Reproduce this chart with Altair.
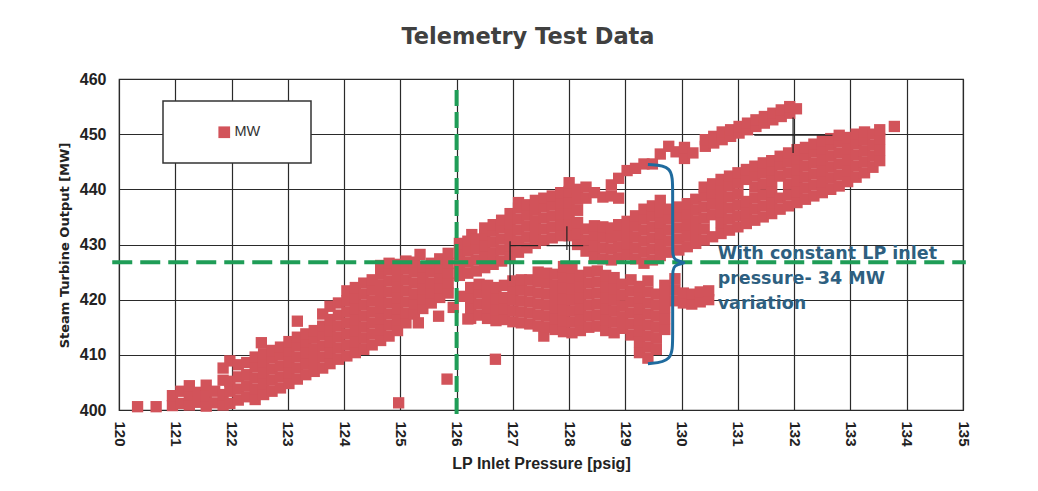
import altair as alt
import pandas as pd

# ---------------- text ----------------
TITLE = "Telemetry Test Data"
X_TITLE = "LP Inlet Pressure [psig]"
Y_TITLE = "Steam Turbine Output [MW]"
SERIES = "MW"
ANNOTATION = ["With constant LP inlet", "pressure- 34 MW", "variation"]

# ---------------- ticks ----------------
X_TICKS = list(range(120, 136))
Y_TICKS = [400, 410, 420, 430, 440, 450, 460]

# ---------------- annotation positions (data units) ----------------
ANNOT_X = [130.64]
ANNOT_Y = [430.0]
H_REF_X = [119.88]
H_REF_X2 = [135.05]
H_REF_Y = [426.8]
V_REF_X = [126.0]
V_REF_Y = [458.0]
V_REF_Y2 = [398.6]
BRACE_X = [129.40, 129.84, 129.84, 129.84, 129.84, 130.14, 129.84, 129.84, 129.84, 129.84, 129.40]
BRACE_Y = [444.5, 444.3, 440.0, 429.0, 427.0, 426.7, 426.4, 424.4, 413.0, 408.8, 408.4]
CROSS_X = [126.95, 126.95, 127.60, 127.96, 131.29, 131.98]
CROSS_X2 = [126.95, 127.45, 128.25, 127.96, 132.68, 131.98]
CROSS_Y = [423.4, 429.8, 429.8, 429.0, 449.8, 446.6]
CROSS_Y2 = [430.6, 429.8, 429.8, 433.3, 449.8, 453.0]

# ---------------- scatter data: (LP inlet pressure, [MW values]) ----------------
LOWER_LEFT_BAND = [
    (120.33, [400.6]),
    (120.66, [400.6]),
    (120.95, [400.8, 402.6]),
    (121.10, [401.2, 403.4]),
    (121.25, [400.9, 402.8, 404.4]),
    (121.40, [401.4, 403.2]),
    (121.55, [400.7, 402.6, 404.5]),
    (121.70, [401.3, 403.4]),
    (121.85, [400.9, 402.8, 405.4, 407.6]),
    (121.97, [401.2, 403.4, 405.2, 408.9]),
    (122.12, [401.8, 403.8, 406.0, 408.2]),
    (122.27, [402.4, 404.4, 406.4, 408.6]),
    (122.42, [401.9, 403.8, 405.8, 407.8, 409.6]),
    (122.53, [412.2]),
    (122.57, [402.8, 404.8, 406.8, 408.8, 410.2]),
    (122.72, [403.4, 405.4, 407.4, 409.4, 410.8]),
    (122.87, [404.0, 406.0, 408.0, 410.0, 411.4]),
    (123.02, [404.8, 406.8, 408.8, 410.8, 412.4]),
    (123.17, [405.6, 407.6, 409.6, 411.6, 413.2, 416.1]),
    (123.32, [406.4, 408.4, 410.4, 412.4, 413.8]),
    (123.47, [407.0, 409.0, 411.0, 413.0, 414.4]),
    (123.62, [407.6, 409.6, 411.6, 413.6, 415.2, 417.4]),
    (123.75, [408.4, 410.4, 412.4, 414.4, 416.4, 418.8]),
    (123.90, [409.2, 411.2, 413.2, 415.2, 417.2, 419.4]),
    (124.05, [409.8, 411.8, 413.8, 415.8, 417.8, 419.8, 421.6]),
    (124.20, [410.4, 412.4, 414.4, 416.4, 418.4, 420.4, 422.2]),
    (124.35, [411.0, 413.0, 415.0, 417.0, 419.0, 421.0, 423.0]),
    (124.50, [411.8, 413.8, 415.8, 417.8, 419.8, 421.8, 423.6]),
    (124.65, [412.6, 414.6, 416.6, 418.6, 420.6, 422.6, 424.6, 426.2]),
    (124.80, [413.4, 415.4, 417.4, 419.4, 421.4, 423.4, 425.4, 426.6]),
    (124.95, [414.4, 416.4, 418.4, 420.4, 422.4, 424.4, 426.4]),
    (125.10, [415.8, 417.6, 419.6, 421.6, 423.6, 425.6, 427.0]),
    (125.25, [417.4, 419.2, 421.0, 423.0, 425.0, 426.8]),
    (125.40, [418.4, 420.2, 422.0, 424.0, 426.0]),
    (125.55, [419.4, 421.2, 423.0, 425.0, 426.6]),
    (125.70, [420.4, 422.2, 424.0, 425.8, 427.4]),
    (125.85, [421.2, 423.0, 424.8, 426.6, 428.4]),
]

OUTLIERS = [
    (124.97, [401.3]),
    (125.83, [405.6]),
    (125.32, [415.8]),
    (125.68, [417.0]),
    (125.35, [428.2]),
    (125.94, [418.6]),
    (126.08, [420.6]),
    (126.20, [416.5]),
    (126.27, [431.8]),
    (126.69, [409.2]),
    (127.55, [413.4]),
    (133.78, [451.4]),
]

UPPER_BAND = [
    (126.05, [424.4, 426.4, 428.4, 430.2]),
    (126.20, [424.8, 426.8, 428.8, 430.6]),
    (126.35, [425.2, 427.2, 429.2, 431.0]),
    (126.50, [425.8, 427.8, 429.8, 431.8, 433.0]),
    (126.65, [426.4, 428.4, 430.4, 432.4, 433.6]),
    (126.80, [427.0, 429.0, 431.0, 433.0, 434.4]),
    (126.95, [427.8, 429.8, 431.8, 433.8, 435.6]),
    (127.10, [428.6, 430.6, 432.6, 434.6, 436.6, 437.6]),
    (127.25, [429.4, 431.4, 433.4, 435.4, 437.2]),
    (127.40, [430.2, 432.2, 434.2, 436.2, 438.0]),
    (127.55, [430.8, 432.8, 434.8, 436.8, 438.4]),
    (127.70, [431.2, 433.2, 435.2, 437.2, 438.8]),
    (127.85, [431.6, 433.6, 435.6, 437.6, 439.4]),
    (128.00, [431.6, 433.6, 435.6, 437.6, 439.6, 441.2]),
    (128.15, [430.0, 432.0, 434.0, 436.2, 438.2, 440.0]),
    (128.30, [428.8, 430.8, 432.8, 438.4, 440.4]),
    (128.45, [427.8, 429.8, 431.8, 433.4, 439.4]),
    (128.60, [427.4, 429.4, 431.4, 433.2, 438.6]),
    (128.75, [427.2, 429.2, 431.2, 433.0, 438.8, 440.8]),
    (128.88, [427.6, 429.6, 431.6, 433.6, 438.4, 442.0]),
    (129.03, [428.2, 430.2, 432.2, 434.2, 443.4]),
    (129.18, [427.4, 429.4, 431.4, 433.4, 435.2, 443.8]),
    (129.33, [426.6, 428.6, 430.6, 432.6, 434.6, 436.4, 444.6]),
    (129.48, [427.2, 429.2, 431.2, 433.2, 435.2, 437.0, 444.6]),
    (129.62, [428.0, 430.0, 432.0, 434.0, 436.0, 438.0, 446.4]),
    (129.77, [428.6, 430.6, 432.6, 434.6, 436.4, 447.8]),
    (129.90, [446.8]),
    (130.05, [445.6, 447.6]),
    (130.20, [446.6]),
]

LOWER_BAND = [
    (126.25, [416.6, 418.6, 420.4, 422.2]),
    (126.40, [417.2, 419.2, 421.2, 422.8]),
    (126.55, [416.6, 418.6, 420.6, 422.6]),
    (126.70, [416.2, 418.2, 420.2, 422.2]),
    (126.85, [416.4, 418.4, 420.4, 422.6]),
    (127.00, [416.0, 418.0, 420.0, 422.0, 423.4]),
    (127.15, [415.8, 417.8, 419.8, 421.8, 423.6]),
    (127.30, [415.6, 417.6, 419.6, 421.6, 423.6]),
    (127.45, [415.2, 417.2, 419.2, 421.2, 423.2, 425.0]),
    (127.60, [415.0, 417.0, 419.0, 421.0, 423.0, 424.8]),
    (127.75, [414.6, 416.6, 418.6, 420.6, 422.6, 424.6]),
    (127.90, [414.2, 416.2, 418.2, 420.2, 422.2, 424.2, 426.0]),
    (128.05, [414.0, 416.0, 418.0, 420.0, 422.0, 424.0, 425.8]),
    (128.20, [414.4, 416.4, 418.4, 420.4, 422.4, 424.4]),
    (128.35, [415.0, 417.0, 419.0, 421.0, 423.0, 425.0]),
    (128.50, [415.2, 417.2, 419.2, 421.2, 423.2, 425.2]),
    (128.65, [414.4, 416.4, 418.4, 420.4, 422.4, 424.4]),
    (128.80, [414.0, 416.0, 418.0, 420.0, 422.0, 424.0]),
    (128.95, [414.8, 416.8, 418.8, 420.8, 422.8]),
    (129.10, [413.6, 415.6, 417.6, 419.6, 421.6, 423.6]),
    (129.25, [410.4, 412.4, 414.4, 416.4, 418.4, 420.4, 422.4]),
    (129.40, [409.4, 411.4, 413.4, 415.4, 417.4, 419.4, 421.4, 423.4]),
    (129.55, [411.0, 413.0, 415.0, 417.0, 419.0, 421.0]),
    (129.70, [414.6, 416.6, 418.6, 420.6, 422.6]),
    (129.88, [419.8, 421.8, 423.8]),
    (130.03, [419.4, 421.2]),
    (130.18, [419.2, 421.0]),
    (130.33, [419.6, 421.4]),
    (130.48, [420.0, 421.6]),
]

RIGHT_BAND = [
    (129.95, [429.0, 431.0, 433.0, 435.0, 436.8]),
    (130.10, [429.6, 431.6, 433.6, 435.6, 437.4]),
    (130.25, [430.2, 432.2, 434.2, 436.2, 438.2]),
    (130.40, [430.8, 432.8, 434.8, 436.8, 438.8, 440.4]),
    (130.55, [431.4, 435.4, 437.4, 439.4, 441.0]),
    (130.70, [432.0, 434.0, 436.0, 438.0, 440.0, 441.8]),
    (130.85, [432.6, 434.6, 436.6, 438.6, 440.6, 442.4]),
    (131.00, [433.2, 435.2, 437.2, 439.2, 441.2, 443.0]),
    (131.15, [433.8, 435.8, 437.8, 441.8, 443.6]),
    (131.30, [434.4, 436.4, 438.4, 440.4, 442.4, 444.2]),
    (131.45, [435.0, 437.0, 439.0, 441.0, 443.0, 444.8]),
    (131.60, [435.6, 437.6, 439.6, 441.6, 443.6, 445.2]),
    (131.75, [436.4, 438.4, 442.4, 444.4, 446.0]),
    (131.90, [437.0, 439.0, 441.0, 443.0, 445.0, 446.6]),
    (132.05, [437.6, 439.6, 441.6, 443.6, 445.6, 447.2]),
    (132.20, [438.2, 440.2, 442.2, 444.2, 446.2, 447.6]),
    (132.35, [438.8, 440.8, 442.8, 444.8, 446.8, 448.2]),
    (132.50, [439.4, 441.4, 443.4, 445.4, 447.4, 448.8]),
    (132.65, [440.0, 442.0, 444.0, 446.0, 448.0, 449.2]),
    (132.80, [440.6, 442.6, 444.6, 446.6, 448.6, 449.8]),
    (132.95, [441.4, 443.4, 445.4, 447.4, 449.4]),
    (133.10, [442.2, 444.2, 446.2, 448.2, 450.0]),
    (133.25, [443.0, 445.0, 447.0, 449.0, 450.4]),
    (133.40, [444.0, 446.0, 448.0, 450.0]),
    (133.52, [445.2, 447.2, 449.2, 450.8]),
]

TOP_STREAK = [
    (130.42, [447.8, 449.0]),
    (130.57, [448.4, 449.6]),
    (130.72, [449.0, 450.4]),
    (130.87, [449.6, 450.8]),
    (131.02, [450.2, 451.4]),
    (131.17, [450.8, 452.0]),
    (131.32, [451.4, 452.6]),
    (131.47, [452.0, 453.2]),
    (131.62, [452.6, 453.8]),
    (131.77, [453.2, 454.4]),
    (131.92, [453.8, 455.0]),
    (132.04, [454.6]),
]

RED = "#d2535a"
GREEN = "#1f9d57"
BLUE = "#1f6b9e"
TEXT_BLUE = "#2e5f80"
GRID = "#2a2a2a"


def flatten(columns):
    return [(x, y) for x, ys in columns for y in ys]


rows = []
for group in (LOWER_LEFT_BAND, OUTLIERS, UPPER_BAND, LOWER_BAND, RIGHT_BAND, TOP_STREAK):
    rows += flatten(group)
points_df = pd.DataFrame(rows, columns=["p", "mw"])
points_df["series"] = SERIES

xs = alt.Scale(domain=[120, 135], nice=False, zero=False)
ys = alt.Scale(domain=[400, 460], nice=False, zero=False)

x_axis = alt.Axis(
    values=X_TICKS, format="d", title=X_TITLE, labelAngle=90, labelPadding=11,
    labelFont="Liberation Sans", labelFontSize=15, labelFontWeight="bold", labelColor="#222",
    titleFont="Liberation Sans Narrow, Liberation Sans", titleFontSize=16, titleFontWeight="bold",
    titleColor="#222", titleY=53, titleBaseline="middle",
)
y_axis = alt.Axis(
    values=Y_TICKS, format="d", title=Y_TITLE, labelPadding=13,
    labelFont="Liberation Sans", labelFontSize=16, labelFontWeight="bold", labelColor="#222",
    titleFont="DejaVu Sans", titleFontSize=13, titleFontWeight="bold", titleColor="#222",
    titleX=-55, titleY=166, titleBaseline="middle", titleAlign="center",
)

BLANK = "\u2800"  # blank braille cell: an invisible, non-trimmed spacer for the legend frame
NBSP = "\u00a0"
legend = alt.Legend(
    orient="none", legendX=44, legendY=22, padding=24,
    title=BLANK * 2, titleOrient="left", titleFont="DejaVu Sans", titleFontSize=12, titlePadding=11,
    fillColor="white", strokeColor="#333",
    symbolType="square", symbolSize=137, symbolStrokeWidth=0, symbolOpacity=1,
    labelFont="Liberation Sans", labelFontSize=14.5, labelColor="#333", labelOffset=3,
    labelExpr="datum.label + '" + NBSP + BLANK * 2 + "'",
)

points = alt.Chart(points_df).mark_square(size=128, opacity=1).encode(
    x=alt.X("p:Q", scale=xs, axis=x_axis),
    y=alt.Y("mw:Q", scale=ys, axis=y_axis),
    color=alt.Color("series:N", scale=alt.Scale(range=[RED]), legend=legend),
)

cross_df = pd.DataFrame({"p": CROSS_X, "p2": CROSS_X2, "mw": CROSS_Y, "mw2": CROSS_Y2})
crosses = alt.Chart(cross_df).mark_rule(color="#222", strokeWidth=1.2).encode(
    x=alt.X("p:Q", scale=xs), x2="p2:Q", y=alt.Y("mw:Q", scale=ys), y2="mw2:Q"
)

h_df = pd.DataFrame({"p": H_REF_X, "p2": H_REF_X2, "mw": H_REF_Y})
h_line = alt.Chart(h_df).mark_rule(color=GREEN, strokeWidth=4, strokeDash=[20, 8]).encode(
    x=alt.X("p:Q", scale=xs), x2="p2:Q", y=alt.Y("mw:Q", scale=ys)
)
v_df = pd.DataFrame({"p": V_REF_X, "mw": V_REF_Y, "mw2": V_REF_Y2})
v_line = alt.Chart(v_df).mark_rule(color=GREEN, strokeWidth=4, strokeDash=[16, 6]).encode(
    x=alt.X("p:Q", scale=xs), y=alt.Y("mw:Q", scale=ys), y2="mw2:Q"
)

brace_df = pd.DataFrame({"p": BRACE_X, "mw": BRACE_Y, "i": list(range(len(BRACE_X)))})
brace = alt.Chart(brace_df).mark_line(color=BLUE, strokeWidth=3, interpolate="basis").encode(
    x=alt.X("p:Q", scale=xs), y=alt.Y("mw:Q", scale=ys), order="i:Q"
)

text_df = pd.DataFrame({"p": ANNOT_X, "mw": ANNOT_Y, "t": ["\n".join(ANNOTATION)]})
note = alt.Chart(text_df).mark_text(
    align="left", baseline="top", lineBreak="\n", lineHeight=25,
    font="DejaVu Sans", fontSize=17.5, fontWeight="bold", color=TEXT_BLUE,
).encode(x=alt.X("p:Q", scale=xs), y=alt.Y("mw:Q", scale=ys), text="t:N")

chart = alt.layer(points, crosses, h_line, v_line, brace, note).properties(
    width=844, height=331,
    autosize=alt.AutoSizeParams(type="none"),
    padding={"left": 111, "top": 71, "right": 67, "bottom": 73},
    title=alt.TitleParams(
        TITLE, font="DejaVu Sans", fontSize=22.5, fontWeight="bold", color="#404040",
        anchor="middle", frame="group", dx=-13, offset=23,
    ),
    background="white",
).configure_view(
    stroke=GRID, strokeWidth=1.2
).configure_axis(
    grid=True, gridColor=GRID, gridOpacity=1, gridWidth=1.2, domain=False, ticks=False
).configure_legend(
    strokeWidth=1.5
)

chart.save("out.html", embed_options={"renderer": "svg", "actions": False})
